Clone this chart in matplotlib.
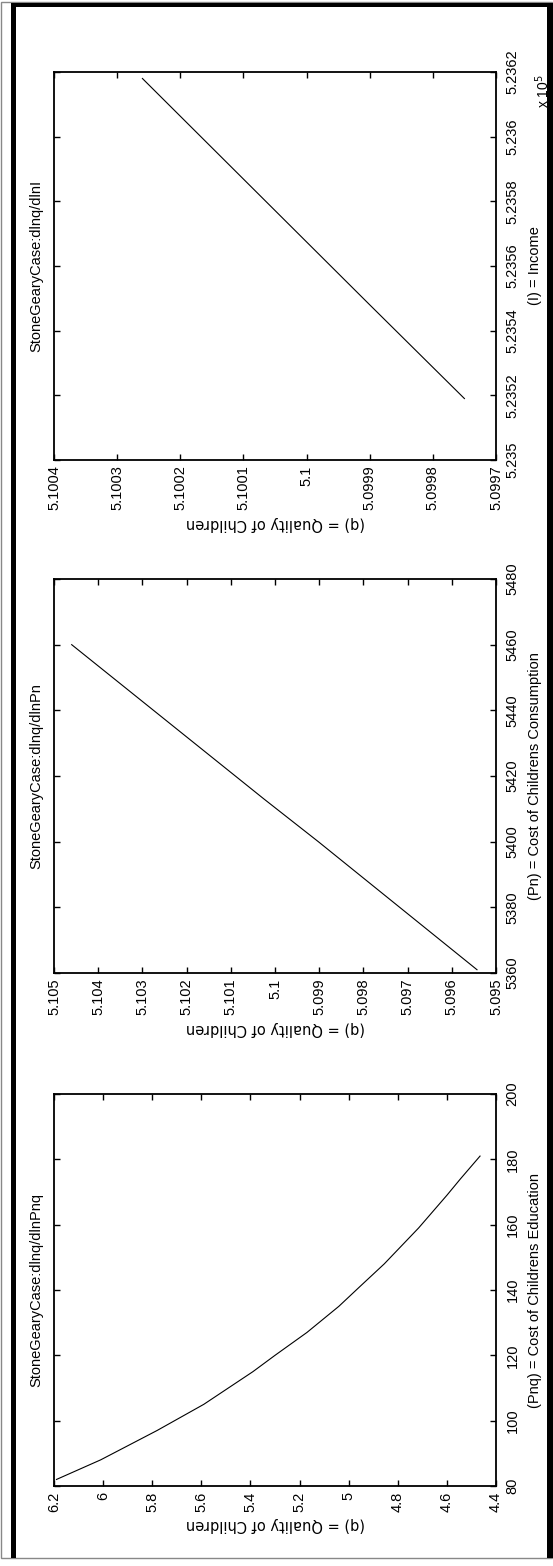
import matplotlib.pyplot as plt
from matplotlib.patches import Rectangle

plt.rcParams['font.family'] = ['Liberation Sans Narrow', 'Liberation Sans', 'DejaVu Sans']

# panel 1: income
income = [523519, 523548, 523618]
q_income = [5.09975, 5.09990, 5.10026]
inc_ticks = [523500, 523520, 523540, 523560, 523580, 523600, 523620]
inc_labels = ['5.235', '5.2352', '5.2354', '5.2356', '5.2358', '5.236', '5.2362']
q1_ticks = [5.1004, 5.1003, 5.1002, 5.1001, 5.1, 5.0999, 5.0998, 5.0997]
q1_labels = ['5.1004', '5.1003', '5.1002', '5.1001', '5.1', '5.0999', '5.0998', '5.0997']

# panel 2: cost of childrens consumption
pn = [5361, 5400, 5413, 5460]
q_pn = [5.09543, 5.09902, 5.10025, 5.1046]
pn_ticks = [5360, 5380, 5400, 5420, 5440, 5460, 5480]
q2_ticks = [5.105, 5.104, 5.103, 5.102, 5.101, 5.1, 5.099, 5.098, 5.097, 5.096, 5.095]
q2_labels = ['5.105', '5.104', '5.103', '5.102', '5.101', '5.1', '5.099', '5.098',
             '5.097', '5.096', '5.095']

# panel 3: cost of childrens education
pnq = [82, 88, 97, 105, 115, 120, 127, 135, 141, 148, 159, 169, 174, 181]
q_pnq = [6.19, 6.01, 5.78, 5.59, 5.39, 5.30, 5.17, 5.04, 4.955, 4.855, 4.715,
         4.60, 4.545, 4.465]
pnq_ticks = [80, 100, 120, 140, 160, 180, 200]
q3_ticks = [6.2, 6.0, 5.8, 5.6, 5.4, 5.2, 5.0, 4.8, 4.6, 4.4]
q3_labels = ['6.2', '6', '5.8', '5.6', '5.4', '5.2', '5', '4.8', '4.6', '4.4']

titles = ['StoneGearyCase:dlnq/dlnI', 'StoneGearyCase:dlnq/dlnPn',
          'StoneGearyCase:dlnq/dlnPnq']
xlabels = ['(I) = Income', '(Pn) = Cost of Childrens Consumption',
           '(Pnq) = Cost of Childrens Education']
ylabel = '(q) = Quality of Children'

W, H = 553, 1566
fig = plt.figure(figsize=(W / 100, H / 100), dpi=100)

# outer frame
fig.add_artist(Rectangle((1 / W, 1 - 1558 / H), 551 / W, 1556 / H, transform=fig.transFigure,
                         fill=False, edgecolor='#888888', linewidth=1))
for x0, y0, w, h in [(11, 3, 5, 1555), (11, 3, 542, 4), (547, 3, 6, 1555)]:
    fig.add_artist(Rectangle((x0 / W, 1 - (y0 + h) / H), w / W, h / H,
                             transform=fig.transFigure, color='black', linewidth=0))

panels = [
    (72, 460, q_income, income, (5.1004, 5.0997), (523500, 523620),
     q1_ticks, q1_labels, inc_ticks, inc_labels),
    (579, 973, q_pn, pn, (5.105, 5.095), (5360, 5480),
     q2_ticks, q2_labels, pn_ticks, [str(t) for t in pn_ticks]),
    (1094, 1486, q_pnq, pnq, (6.2, 4.4), (80, 200),
     q3_ticks, q3_labels, pnq_ticks, [str(t) for t in pnq_ticks]),
]

for i, (top, bot, qv, xv, qlim, xlim, qt, ql, xt, xl) in enumerate(panels):
    ax = fig.add_axes([54 / W, 1 - bot / H, 442 / W, (bot - top) / H])
    ax.plot(qv, xv, color='black', linewidth=0.8)
    ax.set_xlim(*qlim)
    ax.set_ylim(*xlim)
    ax.set_xticks(qt, ql, rotation=90, fontsize=10.5)
    ax.set_yticks(xt, xl, rotation=90, va='center', fontsize=10.5)
    ax.tick_params(axis='x', direction='in', top=True, bottom=True, length=4, width=1, pad=4)
    ax.tick_params(axis='y', direction='in', left=True, right=True, labelleft=False,
                   labelright=True, length=4, width=1, pad=7)
    for s in ax.spines.values():
        s.set_linewidth(1.3)
    ax.yaxis.set_label_position('right')
    ax.set_ylabel(xlabels[i], rotation=90, fontsize=10.5, labelpad=6)
    ax.set_xlabel(ylabel, rotation=180, fontsize=10.5, labelpad=4,
                  family=['DejaVu Sans'])
    ax.text(-0.023, 0.5, titles[i], transform=ax.transAxes, rotation=90,
            ha='right', va='center', fontsize=10.5)
    if i == 0:
        ax.text(1.105, 0.95, r'x 10$^{5}$', transform=ax.transAxes, rotation=90,
                ha='center', va='center', fontsize=10)

fig.savefig('out.png', dpi=100)
